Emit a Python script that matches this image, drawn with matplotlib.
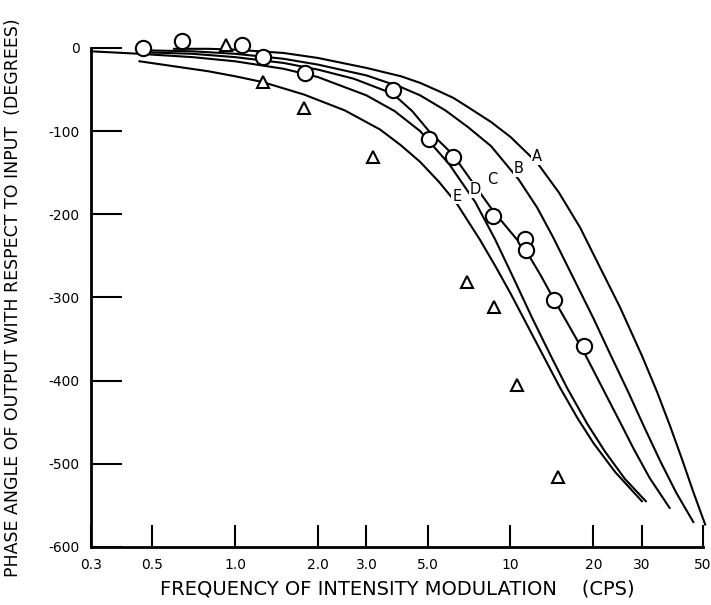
import matplotlib
matplotlib.use("Agg")
import matplotlib.pyplot as plt
from matplotlib.ticker import FixedLocator, NullLocator

# curves A-E: frequency (cps) and phase (degrees)
a_freq = [0.6, 0.8, 1.0, 1.5, 2.0, 3.0, 4.0, 4.7, 5.5, 6.2, 7.0, 8.5, 10.0, 12.5,
          15.0, 17.9, 21.0, 25.0, 30.0, 34.0, 38.0, 42.0, 46.0, 50.9]
a_phase = [-1, -1, -2, -6, -12, -24, -34, -42, -52, -60, -71, -89, -107, -138,
           -174, -216, -262, -312, -370, -413, -455, -495, -533, -573]
b_freq = [0.5, 0.7, 1.0, 1.5, 2.0, 3.0, 4.0, 4.7, 5.8, 7.0, 8.5, 10.7, 12.5, 14.3,
          17.0, 20.0, 23.0, 26.7, 30.5, 35.0, 40.0, 46.1]
b_phase = [-3, -4, -7, -13, -20, -33, -47, -57, -75, -95, -118, -158, -192, -228,
           -278, -325, -368, -413, -455, -497, -535, -570]
c_freq = [0.45, 0.7, 1.0, 1.5, 2.0, 2.7, 3.74, 4.4, 5.06, 6.17, 7.3, 8.65, 10.0,
          11.3, 12.8, 14.36, 16.5, 18.5, 21.5, 25.0, 28.0, 32.0, 37.8]
c_phase = [-5, -7, -11, -18, -26, -37, -55, -76, -100, -128, -162, -196, -221,
           -242, -272, -302, -337, -366, -408, -450, -482, -517, -553]
d_freq = [0.3, 0.45, 0.7, 1.0, 1.5, 2.0, 3.0, 3.8, 4.7, 6.0, 7.44, 8.79, 10.3,
          12.0, 14.0, 16.0, 19.0, 22.0, 26.0, 31.0]
d_phase = [-4, -7, -11, -16, -25, -35, -57, -76, -100, -140, -185, -230, -278,
           -325, -370, -408, -452, -485, -518, -545]
e_freq = [0.45, 0.6, 0.8, 1.0, 1.26, 1.78, 2.5, 3.36, 4.0, 4.7, 5.5, 6.38, 7.76,
          8.8, 10.0, 12.0, 15.1, 17.5, 20.0, 24.0, 30.0]
e_phase = [-16, -22, -28, -34, -41, -56, -75, -98, -117, -137, -161, -187, -231,
           -262, -295, -345, -408, -445, -475, -510, -545]

# measured points
circle_freq = [0.465, 0.644, 1.063, 1.264, 1.795, 3.74, 5.06, 6.17, 8.65, 11.3, 11.4, 14.36, 18.5]
circle_phase = [0, 8, 4, -11, -30, -51, -110, -131, -202, -230, -243, -303, -358]
tri_freq = [0.925, 1.26, 1.78, 3.18, 6.94, 8.72, 10.54, 14.93]
tri_phase = [4, -41, -72, -131, -281, -312, -405, -516]

curve_labels = ["A", "B", "C", "D", "E"]
label_freq = [12.46, 10.68, 8.55, 7.44, 6.38]
label_phase = [-131, -145, -158, -170, -178]

xticks = [0.3, 0.5, 1.0, 2.0, 3.0, 5.0, 10, 20, 30, 50]
xticklabels = ["0.3", "0.5", "1.0", "2.0", "3.0", "5.0", "10", "20", "30", "50"]
yticks = [0, -100, -200, -300, -400, -500, -600]

fig = plt.figure(figsize=(7.11, 6.05), dpi=100)
ax = fig.add_axes([0.128, 0.0959, 0.8608, 0.8248])

for fx, py in [(a_freq, a_phase), (b_freq, b_phase), (c_freq, c_phase),
               (d_freq, d_phase), (e_freq, e_phase)]:
    ax.plot(fx, py, color="black", lw=1.5, clip_on=False, solid_joinstyle="round")

ax.plot(circle_freq, circle_phase, "o", ms=11, mfc="white", mec="black",
        mew=1.5, clip_on=False, zorder=3)
ax.plot(tri_freq, tri_phase, "^", ms=9, mfc="white", mec="black",
        mew=1.5, clip_on=False, zorder=3)

for lab, fx, py in zip(curve_labels, label_freq, label_phase):
    ax.text(fx, py, lab, fontsize=10.5, ha="center", va="center",
            bbox=dict(fc="white", ec="none", pad=0.5))

ax.set_xscale("log")
ax.set_xlim(0.3, 50)
ax.set_ylim(-600, 0)
ax.xaxis.set_major_locator(FixedLocator(xticks))
ax.xaxis.set_minor_locator(NullLocator())
ax.set_xticklabels(xticklabels)
ax.set_yticks(yticks)
ax.set_yticklabels([str(v) for v in yticks])

ax.spines["top"].set_visible(False)
ax.spines["right"].set_visible(False)
for s in ["left", "bottom"]:
    ax.spines[s].set_linewidth(2)
ax.tick_params(axis="y", direction="in", length=22, width=1.5, labelsize=10, pad=8)
ax.tick_params(axis="x", direction="in", length=16, width=1.5, labelsize=10, pad=8)

ax.set_xlabel("FREQUENCY OF INTENSITY MODULATION    (CPS)", fontsize=14, labelpad=5)
ax.set_ylabel("PHASE ANGLE OF OUTPUT WITH RESPECT TO INPUT  (DEGREES)", fontsize=12.5)
ax.yaxis.set_label_coords(-0.112, 0.5)

fig.savefig("out.png", dpi=100)
